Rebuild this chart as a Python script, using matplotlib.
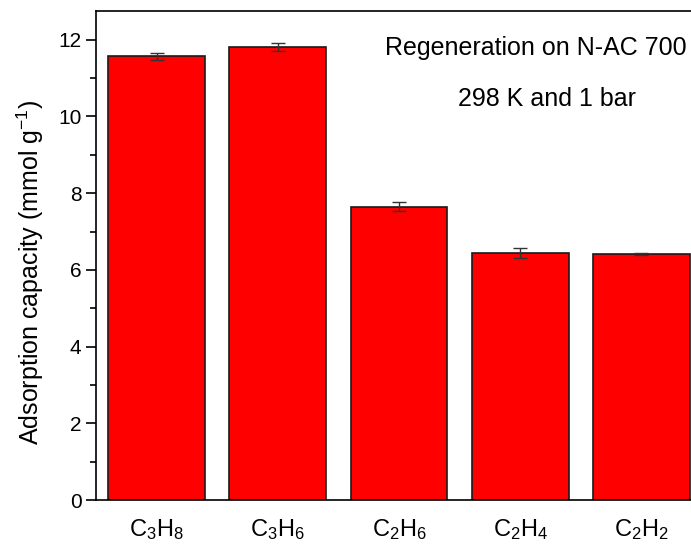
import numpy as np
import matplotlib
matplotlib.use("Agg")
from matplotlib import pyplot as plt
from matplotlib.ticker import MultipleLocator

plt.rcParams['font.family'] = ['Liberation Sans', 'DejaVu Sans']
plt.rcParams['mathtext.fontset'] = 'custom'
plt.rcParams['mathtext.rm'] = 'Liberation Sans'
plt.rcParams['mathtext.it'] = 'Liberation Sans'

gases = ['C$_3$H$_8$', 'C$_3$H$_6$', 'C$_2$H$_6$', 'C$_2$H$_4$', 'C$_2$H$_2$']
capacity = [11.57, 11.81, 7.65, 6.44, 6.41]
error = [0.09, 0.10, 0.11, 0.13, 0.02]

fig = plt.figure(figsize=(6.91, 5.44), dpi=100)
# right spine sits just outside the picture, as in the original crop
ax = fig.add_axes([96/691, 44/544, 606/691, 489/544])

n = np.arange(len(gases))
ax.bar(n, capacity, 0.8, color='#ff0000', edgecolor='#1a1a1a', linewidth=1.2,
       yerr=error, capsize=5, error_kw=dict(ecolor='#333333', elinewidth=1, capthick=1))

ax.set_xlim(-0.5, 4.5)
ax.set_ylim(0, 12.75)
ax.yaxis.set_major_locator(MultipleLocator(2))
ax.yaxis.set_minor_locator(MultipleLocator(1))
ax.tick_params(axis='y', which='major', direction='out', length=7, width=1.2, labelsize=15)
ax.tick_params(axis='y', which='minor', direction='out', length=4, width=1.2)
ax.tick_params(axis='x', length=0, labelsize=17, pad=12)
ax.set_xticks(n)
ax.set_xticklabels(gases)
for s in ax.spines.values():
    s.set_linewidth(1.2)

ax.set_ylabel('Adsorption capacity (mmol g$^{-1}$)', fontsize=18)
ax.yaxis.set_label_coords(-0.082, 0.466)

ax.text(0.975, 0.925, 'Regeneration on N-AC 700', transform=ax.transAxes,
        ha='right', va='center', fontsize=18)
ax.text(0.745, 0.82, '298 K and 1 bar', transform=ax.transAxes,
        ha='center', va='center', fontsize=18)

plt.savefig('out.png', dpi=100)
